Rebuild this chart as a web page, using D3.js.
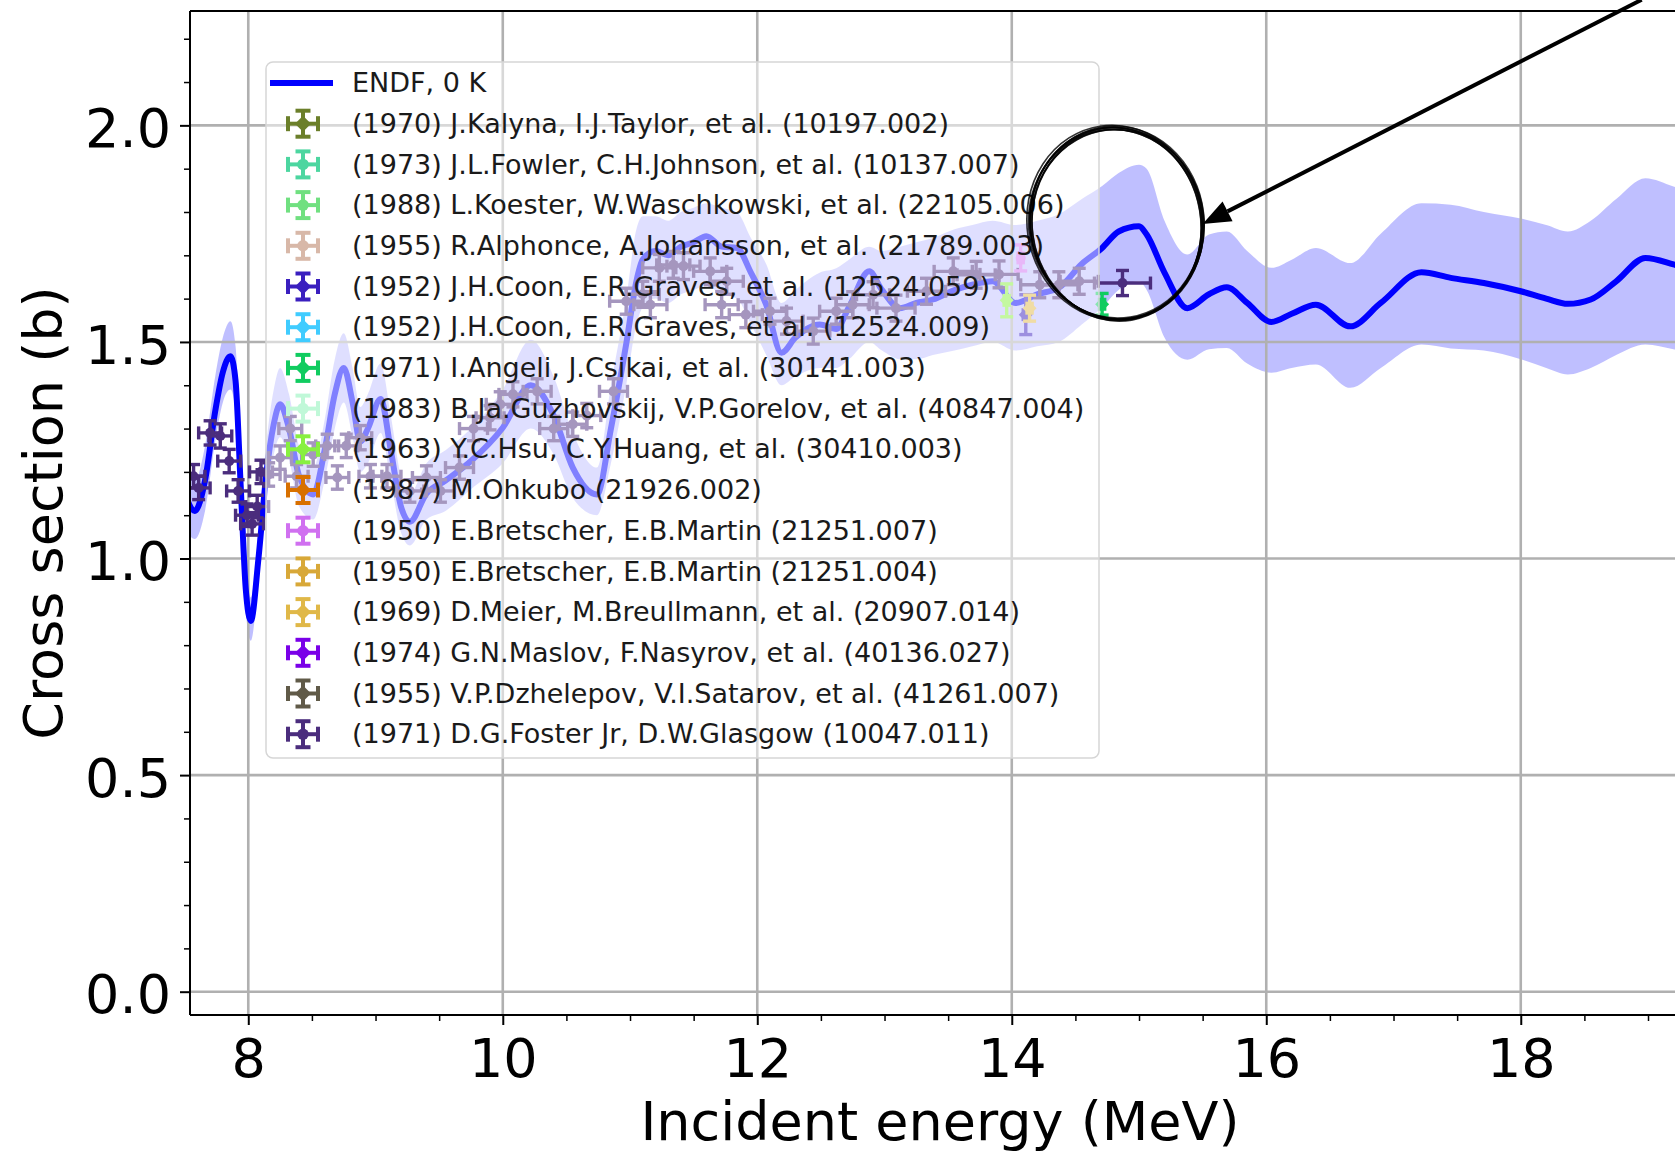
<!DOCTYPE html>
<html>
<head>
<meta charset="utf-8">
<script src="https://d3js.org/d3.v7.min.js"></script>
<style>
  html, body { margin: 0; padding: 0; background: #fff; }
  svg { display: block; font-family: "DejaVu Sans", sans-serif; }
</style>
</head>
<body>
<svg id="chart" width="1675" height="1152"></svg>
<script>
// ENDF evaluation (0 K) and its uncertainty band
var endfE = [7.50,7.58,7.66,7.74,7.80,7.86,7.90,7.94,7.98,8.02,
             8.08,8.14,8.20,8.25,8.32,8.40,8.51,8.60,8.68,8.75,
             8.82,8.88,8.94,9.04,9.12,9.20,9.27,9.40,9.55,9.75,
             10.00,10.22,10.40,10.55,10.74,10.85,10.97,11.05,11.10,11.20,
             11.30,11.40,11.50,11.60,11.72,11.84,11.95,12.07,12.19,12.30,
             12.49,12.62,12.72,12.88,12.98,13.12,13.25,13.38,13.55,13.69,
             13.85,14.03,14.20,14.37,14.55,14.71,14.84,15.00,15.06,15.20,
             15.38,15.55,15.69,15.85,16.04,16.20,16.39,16.66,16.90,17.22,
             17.45,17.71,18.00,18.20,18.37,18.55,18.75,18.98,19.20,19.40];
var endfXS = [1.15,1.11,1.18,1.34,1.43,1.467,1.41,1.17,0.93,0.856,
              1.00,1.19,1.31,1.356,1.30,1.19,1.148,1.25,1.38,1.44,
              1.36,1.27,1.30,1.368,1.25,1.12,1.085,1.15,1.18,1.225,
              1.302,1.40,1.33,1.21,1.148,1.30,1.495,1.64,1.69,1.71,
              1.70,1.72,1.73,1.744,1.72,1.717,1.66,1.586,1.475,1.51,
              1.54,1.53,1.58,1.663,1.62,1.578,1.59,1.598,1.62,1.632,
              1.64,1.59,1.61,1.625,1.68,1.717,1.755,1.767,1.748,1.66,
              1.578,1.61,1.626,1.59,1.546,1.565,1.586,1.536,1.59,1.661,
              1.648,1.636,1.617,1.60,1.588,1.598,1.64,1.694,1.679,1.66];
var endfLow = [1.07,1.045,1.11,1.27,1.36,1.39,1.34,1.11,0.88,0.81,
               0.95,1.13,1.24,1.28,1.23,1.12,1.09,1.18,1.30,1.36,
               1.28,1.20,1.22,1.29,1.18,1.06,1.03,1.09,1.11,1.16,
               1.22,1.30,1.24,1.14,1.10,1.22,1.40,1.54,1.58,1.60,
               1.59,1.61,1.62,1.63,1.61,1.60,1.54,1.47,1.40,1.42,
               1.44,1.44,1.46,1.50,1.48,1.46,1.46,1.47,1.48,1.49,
               1.50,1.48,1.49,1.50,1.54,1.58,1.62,1.64,1.62,1.51,
               1.459,1.483,1.486,1.45,1.429,1.44,1.448,1.394,1.44,1.494,
               1.485,1.48,1.46,1.44,1.425,1.44,1.47,1.494,1.483,1.47];
var endfHigh = [1.22,1.18,1.26,1.42,1.51,1.548,1.49,1.24,0.99,0.91,
                1.06,1.26,1.39,1.44,1.38,1.26,1.21,1.32,1.46,1.52,
                1.44,1.35,1.38,1.45,1.33,1.19,1.15,1.22,1.25,1.30,
                1.39,1.505,1.42,1.29,1.21,1.40,1.60,1.76,1.79,1.79,
                1.78,1.80,1.81,1.82,1.81,1.80,1.74,1.68,1.59,1.62,
                1.66,1.67,1.69,1.72,1.71,1.72,1.73,1.74,1.76,1.77,
                1.78,1.77,1.78,1.795,1.83,1.86,1.89,1.909,1.90,1.78,
                1.702,1.748,1.755,1.71,1.671,1.69,1.717,1.682,1.75,1.82,
                1.817,1.80,1.785,1.77,1.755,1.78,1.83,1.878,1.859,1.84];

// (1971) D.G.Foster Jr, D.W.Glasgow points with x and y errors
var fosterE = [7.57,7.61,7.70,7.78,7.85,7.92,7.99,8.03,8.07,8.10,
               8.16,8.25,8.33,8.38,8.51,8.62,8.70,8.77,8.88,8.96,
               9.09,9.27,9.40,9.51,9.66,9.77,9.90,9.98,10.08,10.27,
               10.40,10.55,10.66,10.87,10.97,11.10,11.16,11.23,11.34,11.42,
               11.63,11.72,11.76,11.91,12.10,12.23,12.44,12.62,12.75,12.91,
               13.09,13.33,13.54,13.72,13.90,14.22,14.37,14.53,14.87];
var fosterXS = [1.19,1.163,1.29,1.283,1.225,1.156,1.10,1.08,1.12,1.20,
                1.194,1.233,1.30,1.19,1.24,1.26,1.187,1.26,1.279,1.19,
                1.19,1.156,1.187,1.156,1.21,1.30,1.325,1.356,1.379,1.386,
                1.30,1.31,1.33,1.386,1.594,1.61,1.586,1.671,1.678,1.675,
                1.663,1.586,1.64,1.563,1.571,1.548,1.525,1.571,1.586,1.609,
                1.578,1.617,1.663,1.655,1.656,1.632,1.632,1.64,1.636];
var fosterDE = [0.09,0.09,0.09,0.09,0.09,0.09,0.09,0.09,0.09,0.09,
                0.09,0.09,0.09,0.09,0.09,0.09,0.09,0.09,0.09,0.09,
                0.11,0.11,0.11,0.11,0.11,0.11,0.11,0.11,0.11,0.11,
                0.11,0.11,0.11,0.11,0.13,0.13,0.13,0.13,0.13,0.13,
                0.13,0.13,0.13,0.13,0.13,0.13,0.13,0.13,0.13,0.13,
                0.15,0.15,0.15,0.15,0.15,0.15,0.15,0.15,0.22];
var fosterDXS = [0.027,0.027,0.028,0.028,0.027,0.026,0.026,0.026,0.026,0.027,
                 0.027,0.027,0.028,0.027,0.027,0.027,0.027,0.027,0.028,0.027,
                 0.027,0.026,0.027,0.026,0.027,0.028,0.028,0.029,0.029,0.029,
                 0.028,0.028,0.028,0.029,0.030,0.030,0.030,0.031,0.031,0.031,
                 0.031,0.030,0.030,0.030,0.030,0.030,0.030,0.030,0.030,0.030,
                 0.030,0.030,0.031,0.031,0.031,0.030,0.030,0.030,0.029];

// the other experiments that show up around 14 MeV (index into expLabels)
var otherSeries = [8, 10, 4, 12, 6];
var otherE = [13.96, 14.07, 14.11, 14.14, 14.71];
var otherXS = [1.596, 1.694, 1.563, 1.578, 1.587];
var otherDE = [0.02, 0.02, 0.02, 0.02, 0.02];
var otherDXS = [0.038, 0.030, 0.046, 0.030, 0.025];

var endfLabel = "ENDF, 0 K";
var expLabels = [
  "(1970) J.Kalyna, I.J.Taylor, et al. (10197.002)",
  "(1973) J.L.Fowler, C.H.Johnson, et al. (10137.007)",
  "(1988) L.Koester, W.Waschkowski, et al. (22105.006)",
  "(1955) R.Alphonce, A.Johansson, et al. (21789.003)",
  "(1952) J.H.Coon, E.R.Graves, et al. (12524.059)",
  "(1952) J.H.Coon, E.R.Graves, et al. (12524.009)",
  "(1971) I.Angeli, J.Csikai, et al. (30141.003)",
  "(1983) B.Ja.Guzhovskij, V.P.Gorelov, et al. (40847.004)",
  "(1963) Y.C.Hsu, C.Y.Huang, et al. (30410.003)",
  "(1987) M.Ohkubo (21926.002)",
  "(1950) E.Bretscher, E.B.Martin (21251.007)",
  "(1950) E.Bretscher, E.B.Martin (21251.004)",
  "(1969) D.Meier, M.Breullmann, et al. (20907.014)",
  "(1974) G.N.Maslov, F.Nasyrov, et al. (40136.027)",
  "(1955) V.P.Dzhelepov, V.I.Satarov, et al. (41261.007)",
  "(1971) D.G.Foster Jr, D.W.Glasgow (10047.011)"
];
var FOSTER = 15;

var xTicks = [8, 10, 12, 14, 16, 18];
var xMinorTicks = [8.5, 9, 9.5, 10.5, 11, 11.5, 12.5, 13, 13.5, 14.5, 15, 15.5, 16.5, 17, 17.5, 18.5, 19];
var yTicks = [0.0, 0.5, 1.0, 1.5, 2.0];
var yMinorTicks = [0.1, 0.2, 0.3, 0.4, 0.6, 0.7, 0.8, 0.9, 1.1, 1.2, 1.3, 1.4, 1.6, 1.7, 1.8, 1.9, 2.1, 2.2];

// hand-drawn ring and arrow pointing at the 15 MeV bump
var ringCenter = [14.82, 1.774];
var arrowTail = [18.95, 2.29];
var arrowTip = [15.50, 1.772];

// styles
var expColors = ["#6b7f2a", "#4cd6a0", "#70e080", "#d8b8a8", "#3a1fbf", "#40ccff",
                 "#10cc60", "#c0f8d8", "#88f040", "#d87000", "#d070f0", "#d8a838",
                 "#e0b848", "#7a00e8", "#605a48", "#4b2d7d"];
var expMarkers = ["D", "o", "o", "o", "D", "D", "D", "o", "D", "D", "o", "o", "D", "D", "D", "o"];
var font = "DejaVu Sans";

var svg = d3.select("#chart");
var x = d3.scaleLinear().domain([7.542, 19.33]).range([190, 1690]);
var y = d3.scaleLinear().domain([-0.0538, 2.264]).range([1015, 11]);
var X0 = x.range()[0], X1 = x.range()[1], Y0 = y.range()[0], Y1 = y.range()[1];

svg.append("rect").attr("width", 1675).attr("height", 1152).attr("fill", "#fff");
svg.append("clipPath").attr("id", "plotclip").append("rect")
    .attr("x", X0).attr("y", Y1).attr("width", X1 - X0).attr("height", Y0 - Y1);

var plot = svg.append("g").attr("clip-path", "url(#plotclip)");

var endf = endfE.map(function(e, i) {
    return {e: e, xs: endfXS[i], lo: endfLow[i], hi: endfHigh[i]};
});

// uncertainty band
plot.append("path").datum(endf)
    .attr("d", d3.area().x(function(d) { return x(d.e); })
        .y0(function(d) { return y(d.lo); })
        .y1(function(d) { return y(d.hi); })
        .curve(d3.curveMonotoneX))
    .attr("fill", "#0000ff").attr("fill-opacity", 0.25);

// grid above the band, below the lines
plot.selectAll(".gx").data(xTicks).enter().append("line")
    .attr("x1", function(d) { return x(d); }).attr("x2", function(d) { return x(d); })
    .attr("y1", Y0).attr("y2", Y1)
    .attr("stroke", "#b0b0b0").attr("stroke-width", 2.6);
plot.selectAll(".gy").data(yTicks).enter().append("line")
    .attr("y1", function(d) { return y(d); }).attr("y2", function(d) { return y(d); })
    .attr("x1", X0).attr("x2", X1)
    .attr("stroke", "#b0b0b0").attr("stroke-width", 2.6);

// ENDF line
plot.append("path").datum(endf)
    .attr("d", d3.line().x(function(d) { return x(d.e); })
        .y(function(d) { return y(d.xs); })
        .curve(d3.curveMonotoneX))
    .attr("fill", "none").attr("stroke", "#0000ff").attr("stroke-width", 6)
    .attr("stroke-linejoin", "round");

function marker(g, cx, cy, color, kind, r) {
    if (kind == "D") {
        g.append("path")
            .attr("d", "M" + cx + "," + (cy - r) + "L" + (cx + r) + "," + cy +
                       "L" + cx + "," + (cy + r) + "L" + (cx - r) + "," + cy + "Z")
            .attr("fill", color);
    } else {
        g.append("circle").attr("cx", cx).attr("cy", cy).attr("r", r * 0.72).attr("fill", color);
    }
}

// one point with error bars and caps; xa..xb, ya..yb in pixels
function errPoint(g, cx, cy, xa, xb, ya, yb, color, kind, big) {
    var cap = big ? 7.5 : 6.5, w = big ? 4 : 3.4;
    var p = g.append("g").attr("stroke", color).attr("stroke-width", w);
    p.append("line").attr("x1", xa).attr("x2", xb).attr("y1", cy).attr("y2", cy);
    p.append("line").attr("x1", cx).attr("x2", cx).attr("y1", ya).attr("y2", yb);
    p.append("line").attr("x1", xa).attr("x2", xa).attr("y1", cy - cap).attr("y2", cy + cap);
    p.append("line").attr("x1", xb).attr("x2", xb).attr("y1", cy - cap).attr("y2", cy + cap);
    p.append("line").attr("x1", cx - cap).attr("x2", cx + cap).attr("y1", ya).attr("y2", ya);
    p.append("line").attr("x1", cx - cap).attr("x2", cx + cap).attr("y1", yb).attr("y2", yb);
    marker(g, cx, cy, color, kind, big ? 8 : 7);
}

var pts = plot.append("g");
fosterE.forEach(function(e, i) {
    errPoint(pts, x(e), y(fosterXS[i]),
        x(e - fosterDE[i]), x(e + fosterDE[i]),
        y(fosterXS[i] + fosterDXS[i]), y(fosterXS[i] - fosterDXS[i]),
        expColors[FOSTER], expMarkers[FOSTER], false);
});
otherE.forEach(function(e, i) {
    var s = otherSeries[i];
    errPoint(pts, x(e), y(otherXS[i]),
        x(e - otherDE[i]), x(e + otherDE[i]),
        y(otherXS[i] + otherDXS[i]), y(otherXS[i] - otherDXS[i]),
        expColors[s], expMarkers[s], false);
});

// legend
var leg = svg.append("g");
var legX = 266, legY = 62, legW = 833, legH = 696, rowH = 40.7, row0 = 83;
leg.append("rect").attr("x", legX).attr("y", legY).attr("width", legW).attr("height", legH)
    .attr("rx", 7).attr("fill", "#fff").attr("fill-opacity", 0.5)
    .attr("stroke", "#d6d6d6").attr("stroke-width", 1.5);

leg.append("line").attr("x1", 270).attr("x2", 333).attr("y1", row0).attr("y2", row0)
    .attr("stroke", "#0000ff").attr("stroke-width", 6);
leg.append("text").attr("x", 352).attr("y", row0).attr("dy", "0.34em")
    .attr("font-family", font).attr("font-size", 27).attr("fill", "#1a1a1a").text(endfLabel);

expLabels.forEach(function(lab, i) {
    var cy = row0 + (i + 1) * rowH, cx = 303;
    errPoint(leg, cx, cy, cx - 15, cx + 15, cy - 13, cy + 13, expColors[i], expMarkers[i], true);
    leg.append("text").attr("x", 352).attr("y", cy).attr("dy", "0.34em")
        .attr("font-family", font).attr("font-size", 27).attr("fill", "#1a1a1a").text(lab);
});

// spines
var sp = svg.append("g").attr("stroke", "#000").attr("stroke-width", 2).attr("fill", "none");
sp.append("line").attr("x1", X0).attr("x2", X0).attr("y1", Y1).attr("y2", Y0);
sp.append("line").attr("x1", X0).attr("x2", X1).attr("y1", Y0).attr("y2", Y0);
sp.append("line").attr("x1", X0).attr("x2", X1).attr("y1", Y1).attr("y2", Y1);
sp.append("line").attr("x1", X1).attr("x2", X1).attr("y1", Y1).attr("y2", Y0);

// axes
function styleAxis(g, w) {
    g.select(".domain").remove();
    g.selectAll("line").attr("stroke", "#000").attr("stroke-width", w);
    g.attr("font-family", font).attr("font-size", 54);
    g.selectAll("text").attr("fill", "#000");
}
var xa = svg.append("g").attr("transform", "translate(0," + Y0 + ")")
    .call(d3.axisBottom(x).tickValues(xTicks).tickFormat(d3.format("d")).tickSize(10).tickPadding(14));
styleAxis(xa, 2);
var xm = svg.append("g").attr("transform", "translate(0," + Y0 + ")")
    .call(d3.axisBottom(x).tickValues(xMinorTicks).tickFormat("").tickSize(6));
styleAxis(xm, 1.5);

var ya = svg.append("g").attr("transform", "translate(" + X0 + ",0)")
    .call(d3.axisLeft(y).tickValues(yTicks).tickFormat(d3.format(".1f")).tickSize(10).tickPadding(9));
styleAxis(ya, 2);
ya.selectAll("text").attr("dy", "0.39em");
var ym = svg.append("g").attr("transform", "translate(" + X0 + ",0)")
    .call(d3.axisLeft(y).tickValues(yMinorTicks).tickFormat("").tickSize(6));
styleAxis(ym, 1.5);

svg.append("text").attr("x", (X0 + X1) / 2).attr("y", 1140)
    .attr("text-anchor", "middle").attr("font-family", font).attr("font-size", 54)
    .text("Incident energy (MeV)");
svg.append("text").attr("transform", "translate(62," + (Y0 + Y1) / 2 + ") rotate(-90)")
    .attr("text-anchor", "middle").attr("font-family", font).attr("font-size", 54)
    .text("Cross section (b)");

// annotation: sketchy ring + arrow
var ann = svg.append("g");
var rcx = x(ringCenter[0]), rcy = y(ringCenter[1]);
var strokes = [[0, 0, 0, 0, 0], [0.8, -0.6, 1.2, 0.6, 1.2], [-0.6, 0.9, -0.9, 1.2, -1.5],
               [1.2, 1.2, 0.6, -1.2, 2], [-1.2, -0.6, 1.8, 1.8, -0.8], [0.3, 1.5, -1.5, -0.6, 0.6],
               [-0.9, 0.3, 0.6, -1.5, -1.2], [1.6, 0.8, -0.4, 0.4, 0.3]];
strokes.forEach(function(s) {
    ann.append("ellipse")
        .attr("cx", rcx + s[0]).attr("cy", rcy + s[1])
        .attr("rx", 86 + s[2]).attr("ry", 96 + s[3])
        .attr("transform", "rotate(" + (-8 + s[4]) + "," + rcx + "," + rcy + ")")
        .attr("fill", "none").attr("stroke", "#000").attr("stroke-width", 1.6)
        .attr("stroke-opacity", 0.8);
});

var tx = x(arrowTail[0]), ty = y(arrowTail[1]), hx = x(arrowTip[0]), hy = y(arrowTip[1]);
var ang = Math.atan2(hy - ty, hx - tx), headL = 28, headW = 11;
var bx = hx - headL * Math.cos(ang), by = hy - headL * Math.sin(ang);
ann.append("line").attr("x1", tx).attr("y1", ty).attr("x2", bx).attr("y2", by)
    .attr("stroke", "#000").attr("stroke-width", 4);
ann.append("path")
    .attr("d", "M" + hx + "," + hy +
        "L" + (bx + headW * Math.sin(ang)) + "," + (by - headW * Math.cos(ang)) +
        "L" + (bx - headW * Math.sin(ang)) + "," + (by + headW * Math.cos(ang)) + "Z")
    .attr("fill", "#000");
</script>
</body>
</html>
